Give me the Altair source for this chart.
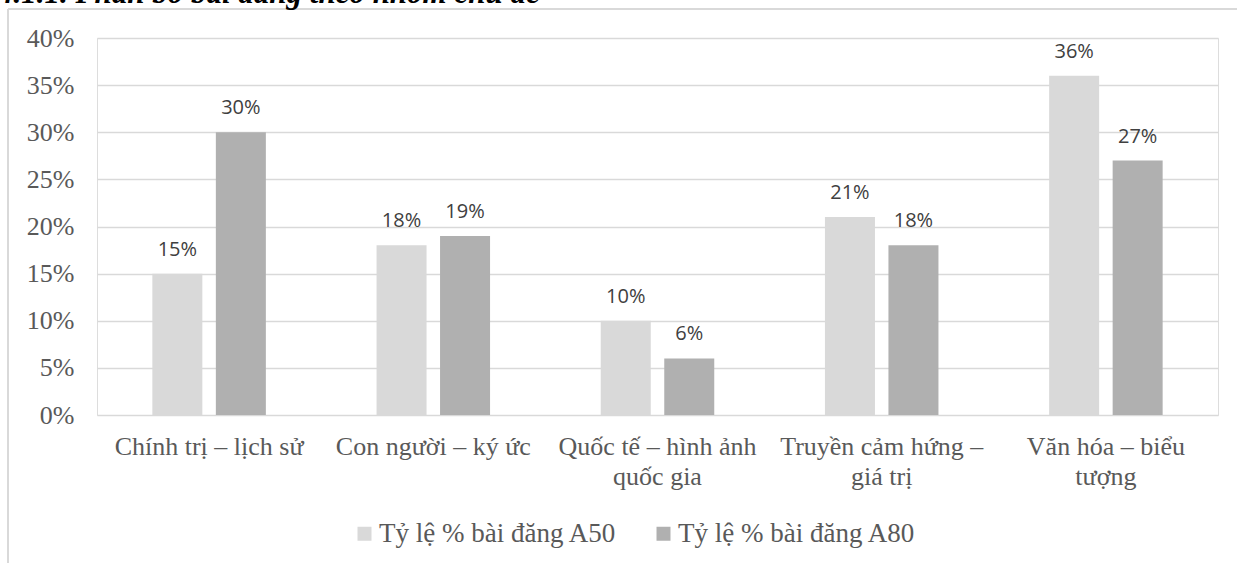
import altair as alt
import pandas as pd

# Topic groups (line breaks mark where the axis label wraps)
categories = [
    "Chính trị – lịch sử",
    "Con người – ký ức",
    "Quốc tế – hình ảnh\nquốc gia",
    "Truyền cảm hứng –\ngiá trị",
    "Văn hóa – biểu\ntượng",
]
series_names = ["Tỷ lệ % bài đăng A50", "Tỷ lệ % bài đăng A80"]
share_a50 = [15, 18, 10, 21, 36]
share_a80 = [30, 19, 6, 18, 27]
series_colors = ["#d9d9d9", "#b0b0b0"]
heading = "4.1.1. Phân bố bài đăng theo nhóm chủ đề"

rows = []
for cat, a, b in zip(categories, share_a50, share_a80):
    rows.append({"cat": cat, "series": series_names[0], "value": a / 100})
    rows.append({"cat": cat, "series": series_names[1], "value": b / 100})
df = pd.DataFrame(rows)

SERIF = "Liberation Serif"
SANS = "Open Sans"
LABEL_GREY = "#595959"

x_enc = alt.X(
    "cat:N",
    sort=categories,
    scale=alt.Scale(paddingInner=0, paddingOuter=0),
    axis=alt.Axis(
        title=None,
        labelAngle=0,
        labelExpr="split(datum.value, '\\n')",
        labelFont=SERIF,
        labelFontSize=26,
        labelLineHeight=30,
        labelColor=LABEL_GREY,
        labelPadding=18,
        ticks=False,
        domain=False,
        grid=False,
        labelLimit=400,
    ),
)
xoff_enc = alt.XOffset(
    "series:N",
    sort=series_names,
    scale=alt.Scale(paddingInner=0.2126, paddingOuter=0.8716),
)
y_enc = alt.Y(
    "value:Q",
    scale=alt.Scale(domain=[0, 0.4], nice=False),
    axis=alt.Axis(
        title=None,
        format=".0%",
        values=[i * 0.05 for i in range(9)],
        labelFont=SERIF,
        labelFontSize=26,
        labelColor=LABEL_GREY,
        labelPadding=23,
        ticks=False,
        domain=False,
        gridColor="#d9d9d9",
        gridWidth=1.3,
    ),
)

bars = alt.Chart(df).mark_bar().encode(
    x=x_enc,
    xOffset=xoff_enc,
    y=y_enc,
    color=alt.Color(
        "series:N",
        sort=series_names,
        scale=alt.Scale(domain=series_names, range=series_colors),
        legend=alt.Legend(
            title=None,
            orient="none",
            direction="horizontal",
            legendX=254,
            legendY=482,
            symbolType="square",
            symbolSize=196,
            symbolStrokeWidth=0,
            labelFont=SERIF,
            labelFontSize=27,
            labelColor=LABEL_GREY,
            labelOffset=1,
            columnPadding=33,
            labelLimit=400,
        ),
    ),
)

labels = alt.Chart(df).mark_text(
    baseline="alphabetic", dy=-18, font=SANS, fontSize=20, color="#404040"
).encode(
    x=alt.X("cat:N", sort=categories),
    xOffset=alt.XOffset("series:N", sort=series_names),
    y="value:Q",
    text=alt.Text("value:Q", format=".0%"),
)

# Outer frame lines of the chart box
frame_left = alt.Chart(df).mark_rule(color="#d9d9d9", strokeWidth=1.3).encode(
    x=alt.value(-89), y=alt.value(-29), y2=alt.value(530)
)
frame_top = alt.Chart(df).mark_rule(color="#d9d9d9", strokeWidth=1.3).encode(
    x=alt.value(-89), x2=alt.value(1150), y=alt.value(-29)
)

# Section heading sitting above the chart box
head = alt.Chart(pd.DataFrame({"t": [heading]})).mark_text(
    align="left", baseline="alphabetic", font=SERIF, fontSize=31,
    fontWeight="bold", fontStyle="italic", color="#000000",
).encode(x=alt.value(-99), y=alt.value(-35), text="t:N")

chart = (
    alt.layer(frame_left, frame_top, head, bars, labels)
    .resolve_scale(x="shared")
    .properties(
        width=1121,
        height=377,
        autosize=alt.AutoSizeParams(type="none"),
        padding={"left": 97, "top": 38, "right": 19, "bottom": 148},
    )
    .configure_view(stroke=None)
    .configure(background="white")
)

chart.save("out.html", embed_options={"renderer": "svg", "actions": False})
